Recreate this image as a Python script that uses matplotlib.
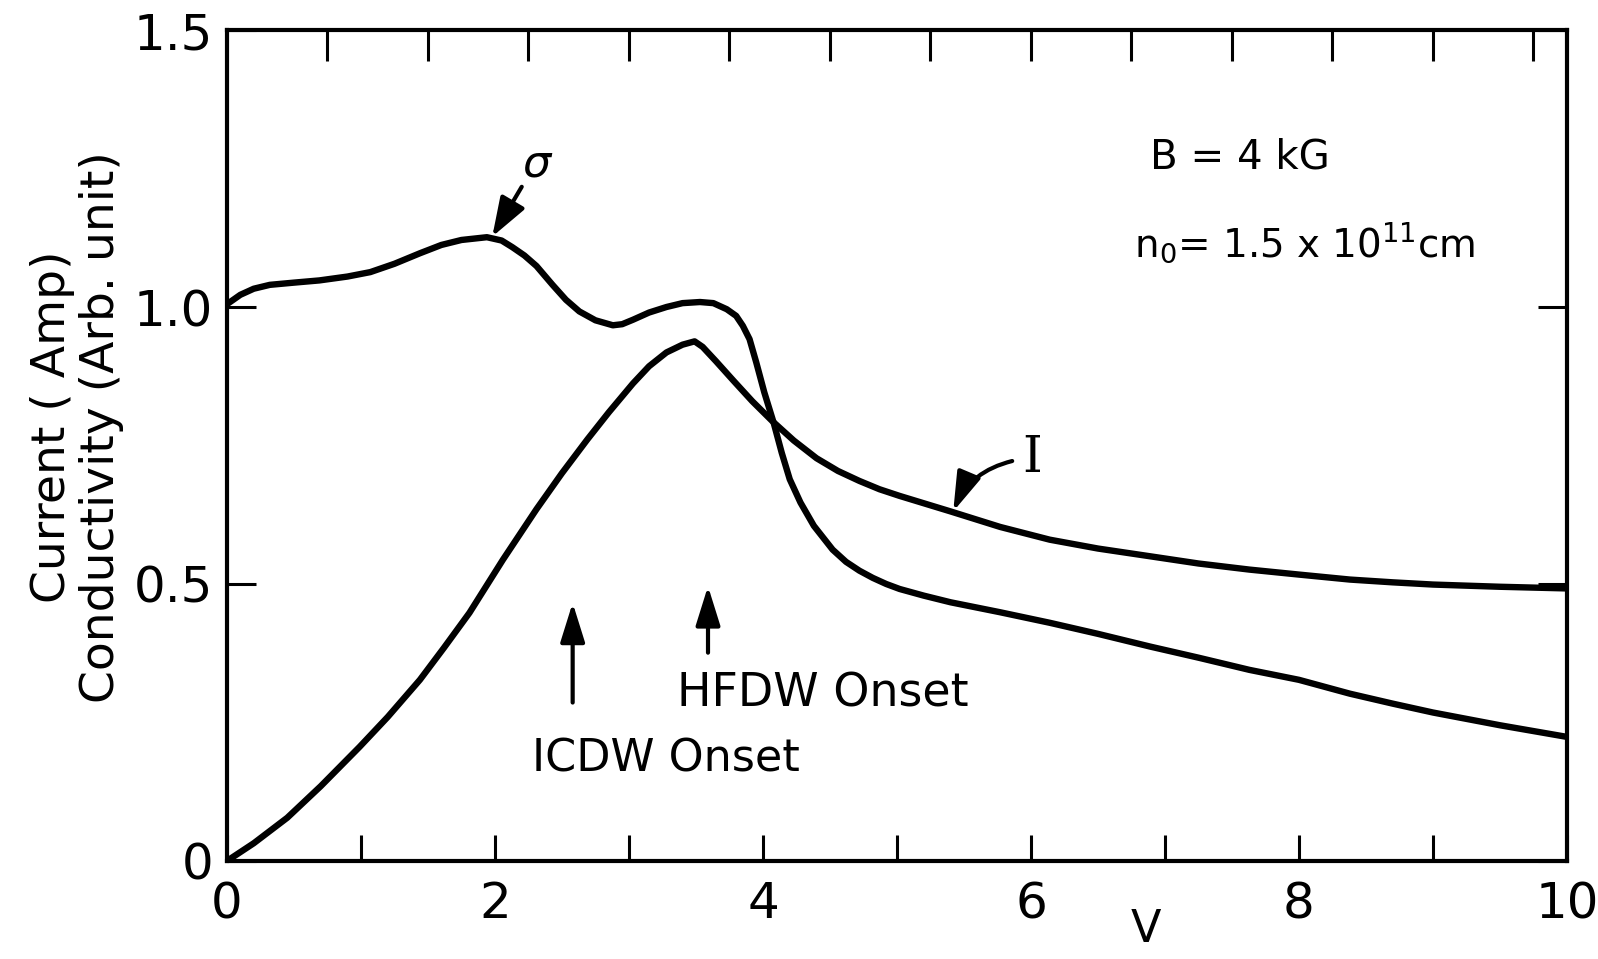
import matplotlib
matplotlib.use("Agg")
import matplotlib.pyplot as plt
import numpy as np

# ---- data ----
sigma_V = [0.0, 0.1, 0.2, 0.32, 0.5, 0.69, 0.9, 1.07, 1.25, 1.44, 1.6, 1.75, 1.94,
           2.05, 2.13, 2.22, 2.31, 2.43, 2.53, 2.63, 2.75, 2.88, 2.95, 3.03, 3.15,
           3.28, 3.4, 3.53, 3.63, 3.73, 3.8, 3.85, 3.9, 3.95, 4.01, 4.08, 4.14,
           4.2, 4.28, 4.38, 4.52, 4.62, 4.72, 4.82, 4.92, 5.02, 5.2, 5.4, 5.77,
           6.14, 6.5, 6.89, 7.25, 7.63, 8.0, 8.38, 8.7, 9.0, 9.5, 10.0]
sigma_val = [1.005, 1.022, 1.033, 1.04, 1.044, 1.048, 1.055, 1.063, 1.078, 1.097,
             1.112, 1.121, 1.126, 1.12, 1.108, 1.093, 1.074, 1.04, 1.013, 0.992,
             0.976, 0.967, 0.969, 0.977, 0.99, 1.0, 1.007, 1.009, 1.007, 0.996,
             0.984, 0.966, 0.942, 0.9, 0.846, 0.791, 0.737, 0.689, 0.647, 0.605,
             0.562, 0.54, 0.524, 0.511, 0.5, 0.491, 0.479, 0.467, 0.449, 0.43,
             0.41, 0.387, 0.367, 0.345, 0.327, 0.302, 0.284, 0.268, 0.245, 0.224]

current_V = [0.0, 0.2, 0.45, 0.7, 0.99, 1.2, 1.44, 1.62, 1.81, 2.06, 2.31, 2.5,
             2.69, 2.85, 3.03, 3.15, 3.28, 3.4, 3.49, 3.55, 3.65, 3.78, 3.92,
             4.07, 4.23, 4.4, 4.56, 4.72, 4.87, 5.02, 5.4, 5.77, 6.14, 6.5, 6.89,
             7.25, 7.63, 8.0, 8.38, 8.7, 9.0, 9.5, 10.0]
current_val = [0.0, 0.032, 0.078, 0.135, 0.206, 0.26, 0.327, 0.385, 0.448, 0.544,
               0.635, 0.7, 0.761, 0.81, 0.862, 0.893, 0.918, 0.932, 0.938, 0.928,
               0.902, 0.867, 0.83, 0.794, 0.759, 0.727, 0.704, 0.686, 0.671, 0.659,
               0.631, 0.603, 0.58, 0.564, 0.55, 0.537, 0.526, 0.517, 0.508, 0.503,
               0.499, 0.495, 0.492]

x_major = [0, 2, 4, 6, 8, 10]
x_minor = [1, 3, 5, 7, 9]
y_ticks = [0, 0.5, 1.0, 1.5]
y_ticklabels = ["0", "0.5", "1.0", "1.5"]
top_tick_step = 0.75

TICKFONT = ["DejaVu Sans"]
TEXTFONT = ["DejaVu Sans"]

fig = plt.figure(figsize=(15.98, 9.59), dpi=100)
ax = fig.add_axes([0.142, 0.1022, 0.8386, 0.8665])

lw = 4.6
ax.plot(sigma_V, sigma_val, color="black", lw=lw, solid_joinstyle="round",
        solid_capstyle="round")
ax.plot(current_V, current_val, color="black", lw=lw, solid_joinstyle="round",
        solid_capstyle="round")

ax.set_xlim(0, 10)
ax.set_ylim(0, 1.5)

for s in ax.spines.values():
    s.set_linewidth(3.0)

ax.set_xticks(x_major)
ax.set_xticks(x_minor, minor=True)
ax.set_xticklabels([str(v) for v in x_major], fontsize=36, family=TICKFONT)
ax.set_yticks(y_ticks)
ax.set_yticklabels(y_ticklabels, fontsize=36, family=TICKFONT)
ax.tick_params(axis="x", which="both", direction="in", length=19, width=2.2,
               pad=14, top=False)
ax.tick_params(axis="y", which="both", direction="in", length=21, width=2.2,
               pad=10, right=True)

# top axis ticks with a different spacing
top = ax.secondary_xaxis("top", functions=(lambda v: v / top_tick_step,
                                           lambda u: u * top_tick_step))
top.set_xticks(np.arange(1, 14))
top.tick_params(direction="in", length=22, width=2.2, labeltop=False)
top.spines["top"].set_visible(False)

ax.set_xlabel("V", fontsize=32, family=TEXTFONT, va="top")
ax.xaxis.set_label_coords(0.686, -0.057)
ax.set_ylabel("Current ( Amp)\nConductivity (Arb. unit)", fontsize=34,
              family=TEXTFONT, linespacing=1.12)
ax.yaxis.set_label_coords(-0.077, 0.522)

# annotations
ax.text(6.89, 1.25, "B = 4 kG", fontsize=29, family=TEXTFONT, ha="left",
        va="baseline")
ax.text(6.77, 1.09, r"n$_0$= 1.5 x 10$^{11}$cm", fontsize=28, family=TEXTFONT,
        ha="left", va="baseline")

ax.text(2.32, 1.259, r"$\sigma$", fontsize=32, ha="center", va="center")
ax.annotate("", xy=(1.98, 1.127), xytext=(2.2, 1.217),
            arrowprops=dict(arrowstyle="-|>,head_length=0.8,head_width=0.28",
                            mutation_scale=30, lw=3, color="black",
                            shrinkA=0, shrinkB=0))

ax.text(6.01, 0.727, "I", fontsize=36, family=["DejaVu Serif"], ha="center",
        va="center")
ax.annotate("", xy=(5.42, 0.631), xytext=(5.86, 0.722),
            arrowprops=dict(arrowstyle="-|>,head_length=0.8,head_width=0.25",
                            mutation_scale=30, lw=3, color="black",
                            shrinkA=0, shrinkB=0,
                            connectionstyle="arc3,rad=0.25"))

ax.annotate("", xy=(2.58, 0.466), xytext=(2.58, 0.286),
            arrowprops=dict(arrowstyle="-|>,head_length=0.8,head_width=0.25",
                            mutation_scale=30, lw=3, color="black",
                            shrinkA=0, shrinkB=0))
ax.annotate("", xy=(3.59, 0.496), xytext=(3.59, 0.376),
            arrowprops=dict(arrowstyle="-|>,head_length=0.8,head_width=0.25",
                            mutation_scale=30, lw=3, color="black",
                            shrinkA=0, shrinkB=0))
ax.text(3.36, 0.278, "HFDW Onset", fontsize=33, family=TEXTFONT, ha="left",
        va="baseline")
ax.text(2.28, 0.161, "ICDW Onset", fontsize=32, family=TEXTFONT, ha="left",
        va="baseline")

fig.savefig("out.png", dpi=100)
